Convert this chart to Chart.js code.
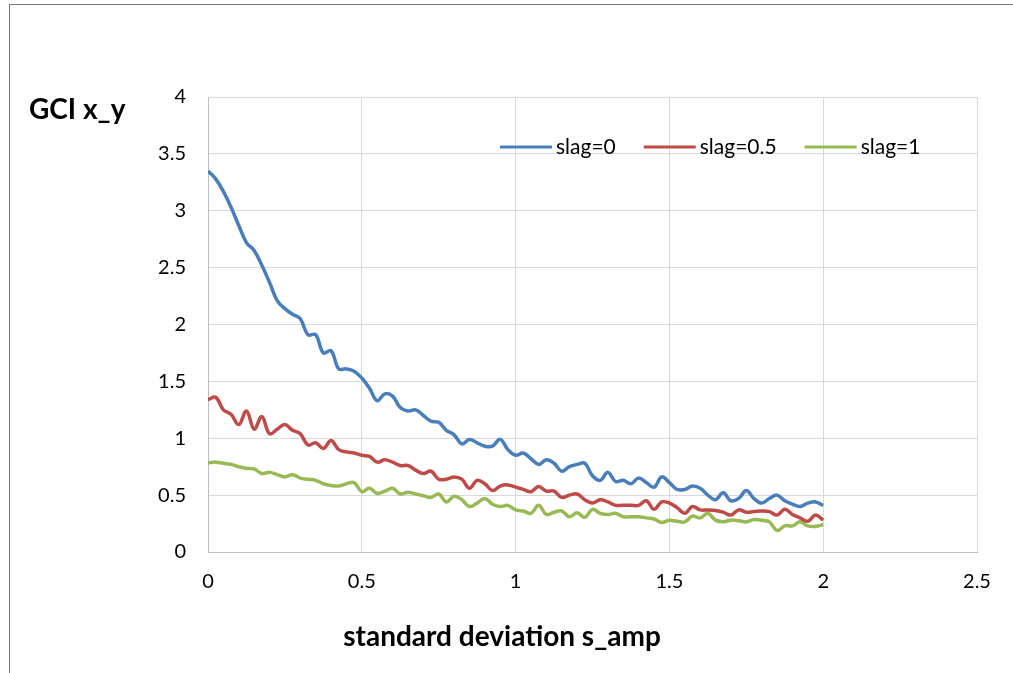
<!DOCTYPE html>
<html>
<head>
<meta charset="utf-8">
<script src="https://cdn.jsdelivr.net/npm/chart.js@4/dist/chart.umd.min.js"></script>
<style>
  html, body { margin: 0; padding: 0; background: #fff; }
  #wrap { position: relative; width: 1013px; height: 673px; overflow: hidden; }
  #frame { position: absolute; left: 9px; top: 4px; width: 1020px; height: 700px;
           border-left: 1px solid #7a7a7a; border-top: 1px solid #7a7a7a; pointer-events: none; }
  canvas { position: absolute; left: 0; top: 0; }
</style>
</head>
<body>
<div id="wrap">
  <canvas id="gciChart" width="1013" height="673"></canvas>
  <div id="frame"></div>
</div>
<script>
// Data
const xValues = [
  0, 0.025, 0.05, 0.075, 0.1, 0.125, 0.15, 0.175, 0.2, 0.225,
  0.25, 0.275, 0.3, 0.325, 0.35, 0.375, 0.4, 0.425, 0.45, 0.475,
  0.5, 0.525, 0.55, 0.575, 0.6, 0.625, 0.65, 0.675, 0.7, 0.725,
  0.75, 0.775, 0.8, 0.825, 0.85, 0.875, 0.9, 0.925, 0.95, 0.975,
  1, 1.025, 1.05, 1.075, 1.1, 1.125, 1.15, 1.175, 1.2, 1.225,
  1.25, 1.275, 1.3, 1.325, 1.35, 1.375, 1.4, 1.425, 1.45, 1.475,
  1.5, 1.525, 1.55, 1.575, 1.6, 1.625, 1.65, 1.675, 1.7, 1.725,
  1.75, 1.775, 1.8, 1.825, 1.85, 1.875, 1.9, 1.925, 1.95, 1.975,
  2
];

const slag0 = [
  3.35, 3.28, 3.17, 3.03, 2.87, 2.72, 2.65, 2.52, 2.37, 2.21,
  2.14, 2.09, 2.05, 1.91, 1.91, 1.75, 1.77, 1.61, 1.61, 1.59,
  1.53, 1.44, 1.33, 1.39, 1.37, 1.27, 1.24, 1.25, 1.20, 1.15,
  1.14, 1.07, 1.03, 0.95, 0.99, 0.96, 0.93, 0.93, 0.99, 0.90,
  0.85, 0.87, 0.82, 0.77, 0.81, 0.78, 0.71, 0.75, 0.77, 0.78,
  0.67, 0.63, 0.70, 0.62, 0.63, 0.60, 0.65, 0.61, 0.57, 0.66,
  0.61, 0.55, 0.55, 0.58, 0.56, 0.50, 0.46, 0.52, 0.45, 0.47,
  0.54, 0.47, 0.43, 0.47, 0.50, 0.45, 0.42, 0.40, 0.43, 0.44,
  0.41
];

const slag05 = [
  1.34, 1.36, 1.25, 1.21, 1.12, 1.24, 1.08, 1.19, 1.04, 1.08,
  1.12, 1.07, 1.04, 0.94, 0.96, 0.91, 0.98, 0.90, 0.88, 0.87,
  0.85, 0.84, 0.79, 0.81, 0.79, 0.76, 0.76, 0.72, 0.69, 0.71,
  0.64, 0.64, 0.66, 0.64, 0.56, 0.63, 0.60, 0.54, 0.58, 0.59,
  0.57, 0.55, 0.53, 0.575, 0.535, 0.535, 0.48, 0.50, 0.51, 0.46,
  0.43, 0.46, 0.44, 0.41, 0.41, 0.41, 0.41, 0.45, 0.375, 0.44,
  0.43, 0.39, 0.34, 0.40, 0.37, 0.37, 0.365, 0.35, 0.325, 0.37,
  0.35, 0.355, 0.36, 0.355, 0.325, 0.375, 0.33, 0.30, 0.27, 0.325,
  0.28
];

const slag1 = [
  0.785, 0.79, 0.78, 0.77, 0.75, 0.735, 0.73, 0.69, 0.70, 0.68,
  0.66, 0.68, 0.65, 0.64, 0.63, 0.60, 0.585, 0.58, 0.60, 0.61,
  0.53, 0.56, 0.515, 0.535, 0.56, 0.51, 0.525, 0.51, 0.495, 0.48,
  0.51, 0.44, 0.49, 0.46, 0.40, 0.43, 0.47, 0.42, 0.40, 0.41,
  0.37, 0.36, 0.34, 0.41, 0.33, 0.35, 0.36, 0.31, 0.345, 0.305,
  0.375, 0.34, 0.33, 0.34, 0.31, 0.31, 0.31, 0.30, 0.29, 0.26,
  0.28, 0.27, 0.265, 0.315, 0.30, 0.34, 0.28, 0.265, 0.28, 0.275,
  0.265, 0.285, 0.28, 0.265, 0.19, 0.23, 0.23, 0.265, 0.23, 0.225,
  0.24
];

const seriesLabels = ['slag=0', 'slag=0.5', 'slag=1'];
const seriesColors = ['#4a7ebb', '#be4b48', '#98b954'];
const yTitle = 'GCI x_y';
const xTitle = 'standard deviation s_amp';

const fontFamily = 'Lato, "Open Sans", sans-serif';

const toPoints = (ys) => ys.map((y, i) => ({ x: xValues[i], y: y }));

// Titles and legend drawn inside the plot, Excel style
const overlay = {
    id: 'overlay',
    afterDraw(chart) {
        const ctx = chart.ctx;
        ctx.save();
        ctx.fillStyle = '#000';
        ctx.font = 'bold 28px ' + fontFamily;
        ctx.textBaseline = 'middle';
        ctx.textAlign = 'left';
        ctx.fillText(yTitle, 29, 110);
        ctx.textAlign = 'center';
        ctx.fillText(xTitle, 502, 637);

        // legend
        ctx.font = '21px ' + fontFamily;
        ctx.textAlign = 'left';
        let x = 500;
        const y = 147;
        chart.data.datasets.forEach(ds => {
            ctx.strokeStyle = ds.borderColor;
            ctx.lineWidth = 3;
            ctx.beginPath();
            ctx.moveTo(x, y);
            ctx.lineTo(x + 52, y);
            ctx.stroke();
            ctx.fillText(ds.label, x + 56, y);
            x += 56 + ctx.measureText(ds.label).width + 28;
        });
        ctx.restore();
    }
};

const ctx = document.getElementById('gciChart').getContext('2d');
const gciChart = new Chart(ctx, {
    type: 'line',
    data: {
        datasets: [
            { label: seriesLabels[0], data: toPoints(slag0) },
            { label: seriesLabels[1], data: toPoints(slag05) },
            { label: seriesLabels[2], data: toPoints(slag1) }
        ].map((ds, i) => Object.assign(ds, {
            borderColor: seriesColors[i],
            backgroundColor: seriesColors[i],
            borderWidth: 3.5,
            pointRadius: 0,
            tension: 0.4,
            fill: false
        }))
    },
    options: {
        responsive: false,
        animation: false,
        layout: { padding: { top: 97, right: 36, left: 0, bottom: 0 } },
        plugins: {
            legend: { display: false },
            tooltip: { enabled: false }
        },
        scales: {
            x: {
                type: 'linear',
                min: 0,
                max: 2.5,
                ticks: {
                    stepSize: 0.5,
                    padding: 18,
                    color: '#000',
                    font: { family: fontFamily, size: 20 },
                    callback: v => String(v)
                },
                grid: { color: '#d9d9d9', lineWidth: 1, drawTicks: false },
                border: { color: '#bfbfbf', width: 1 },
                afterFit: scale => { scale.height = 121; }
            },
            y: {
                min: 0,
                max: 4,
                ticks: {
                    stepSize: 0.5,
                    padding: 22,
                    color: '#000',
                    font: { family: fontFamily, size: 20 },
                    callback: v => String(v)
                },
                grid: { color: '#d9d9d9', lineWidth: 1, drawTicks: false },
                border: { color: '#bfbfbf', width: 1 },
                afterFit: scale => { scale.width = 208; }
            }
        }
    },
    plugins: [overlay]
});
</script>
</body>
</html>
